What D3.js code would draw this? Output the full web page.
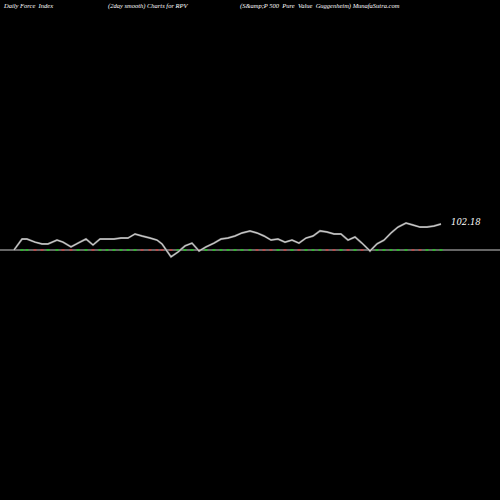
<!DOCTYPE html>
<html><head><meta charset="utf-8">
<script src="https://cdn.jsdelivr.net/npm/d3@7"></script>
<style>body{margin:0;background:#000}</style>
</head><body>
<svg id="viz" width="500" height="500"></svg>
<script>
var xs = [14,22,27,35,42,48,57,63,71,78,86,93,100,107,114,121,128,135,142,150,157,162,171,178,185,192,199,206,214,221,228,235,242,250,257,264,271,278,285,292,299,306,313,320,327,334,341,348,355,362,370,377,384,391,398,406,413,420,427,434,441];
var values = [0,43,43,31,24,24,39,31,12,27,43,20,43,43,43,47,47,63,55,47,39,24,-27,-8,16,27,-4,12,27,43,47,55,67,75,67,55,39,43,31,39,27,47,55,75,71,63,63,39,51,27,-4,24,39,67,90,106,98,90,90,94,102];
var lastLabel = "102.18";
var titles = ["Daily Force  Index", "(2day smooth) Charts for RPV", "(S&amp;P 500  Pure  Value  Guggenheim) MunafaSutra.com"];

var svg = d3.select("#viz");
var x = d3.scaleLinear().domain([0, 500]).range([0, 500]);
var y = d3.scaleLinear().domain([0, 102.18]).range([250, 224]);

svg.append("line").attr("x1",0).attr("x2",500).attr("y1",y(0)).attr("y2",y(0))
  .attr("stroke","#888").attr("stroke-width",1.5);

svg.selectAll(".tick").data(values.slice(1)).enter().append("line")
  .attr("x1",function(d,i){return x(xs[i+1])-1.5;})
  .attr("x2",function(d,i){return x(xs[i+1])+1.5;})
  .attr("y1",y(0)).attr("y2",y(0))
  .attr("stroke",function(d,i){return d >= values[i] ? "#2c2" : "#c44";})
  .attr("stroke-width",1.5);

var line = d3.line().x(function(d,i){return x(xs[i]);}).y(function(d){return y(d);});
svg.append("path").datum(values).attr("d",line).attr("fill","none")
  .attr("stroke","#888").attr("stroke-width",2);
svg.append("path").datum(values).attr("d",line).attr("fill","none")
  .attr("stroke","#eee").attr("stroke-width",0.7);

svg.append("text").attr("x",451).attr("y",225).attr("fill","#fff")
  .attr("font-family","DejaVu Serif, serif").attr("font-style","italic").attr("font-size",8.5)
  .text(lastLabel);

var tx = [4, 108, 240];
svg.selectAll(".title").data(titles).enter().append("text")
  .attr("x",function(d,i){return tx[i];}).attr("y",8).attr("fill","#fff")
  .attr("font-family","Liberation Serif, serif").attr("font-style","italic").attr("font-size",6.5)
  .style("white-space","pre").text(function(d){return d;});
</script>
</body></html>
